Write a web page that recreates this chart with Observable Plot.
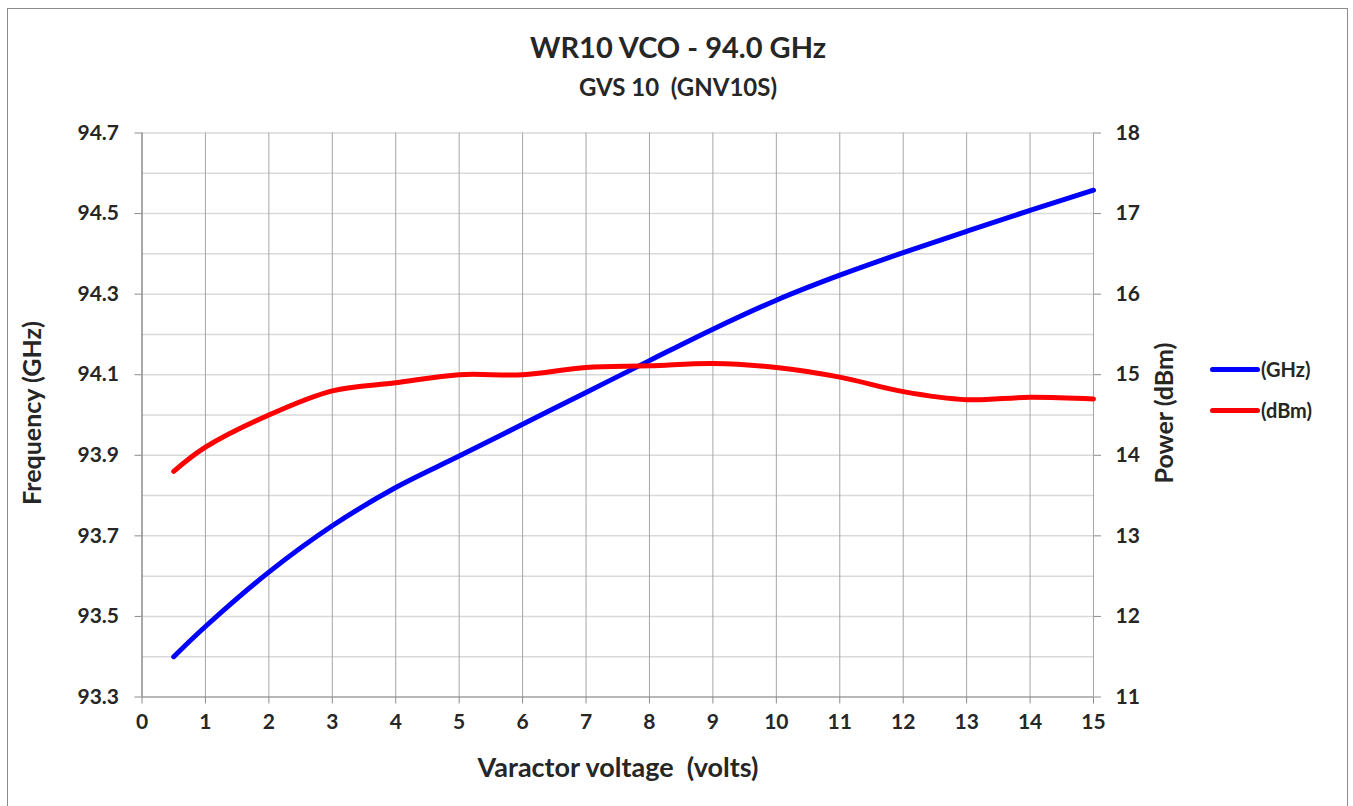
<!DOCTYPE html>
<html><head><meta charset="utf-8">
<script src="https://cdn.jsdelivr.net/npm/d3@7"></script>
<script src="https://cdn.jsdelivr.net/npm/@observablehq/plot@0.6"></script>
<style>
body{margin:0;background:#fff;font-family:Lato,"Open Sans",sans-serif;}
#wrap{position:relative;width:1353px;height:806px;overflow:hidden;}
#frame{position:absolute;left:7px;top:8px;width:1341px;height:800px;border:1px solid #8c8c8c;box-sizing:border-box;}
.txt{position:absolute;font-weight:bold;color:#262626;white-space:pre;line-height:1;}
#chart{position:absolute;left:0;top:0;}
.leg{position:absolute;height:5px;width:50px;border-radius:3px;}
</style></head>
<body>
<div id="wrap">
  <div id="frame"></div>
  <div id="chart"></div>
  <div class="txt" id="title" style="left:0;width:1356px;text-align:center;top:32px;font-size:29px;">WR10 VCO - 94.0 GHz</div>
  <div class="txt" id="subtitle" style="left:0;width:1356px;text-align:center;top:75px;font-size:24px;">GVS 10  (GNV10S)</div>
  <div class="txt" style="left:0;width:1236px;text-align:center;top:753px;font-size:27px;">Varactor voltage  (volts)</div>
  <div class="txt" style="left:31px;top:413px;font-size:25px;transform:translate(-50%,-50%) rotate(-90deg);">Frequency (GHz)</div>
  <div class="txt" style="left:1163px;top:413px;font-size:25px;transform:translate(-50%,-50%) rotate(-90deg);">Power (dBm)</div>
  <div class="leg" style="left:1210px;top:367px;background:#0000ff;"></div>
  <div class="txt" style="left:1261px;top:359px;font-size:20px;">(GHz)</div>
  <div class="leg" style="left:1210px;top:408px;background:#ff0000;"></div>
  <div class="txt" style="left:1261px;top:400px;font-size:20px;">(dBm)</div>
</div>
<script>
// Data
const voltage   = [0.5, 1, 2, 3, 4, 5, 6, 7, 8, 9, 10, 11, 12, 13, 14, 15];
const freqGHz   = [93.40, 93.475, 93.61, 93.725, 93.82, 93.898, 93.977, 94.056, 94.135, 94.213, 94.285, 94.347, 94.403, 94.456, 94.508, 94.558];
const powerDBm  = [13.80, 14.10, 14.50, 14.80, 14.90, 15.00, 15.00, 15.09, 15.11, 15.14, 15.09, 14.97, 14.79, 14.69, 14.72, 14.70];
const xTicks    = [0,1,2,3,4,5,6,7,8,9,10,11,12,13,14,15];
const freqTicks = [93.3, 93.5, 93.7, 93.9, 94.1, 94.3, 94.5, 94.7];
const freqGrid  = [93.3, 93.4, 93.5, 93.6, 93.7, 93.8, 93.9, 94.0, 94.1, 94.2, 94.3, 94.4, 94.5, 94.6, 94.7];
const powerTicks = [11, 12, 13, 14, 15, 16, 17, 18];

// secondary axis mapping: 11 dBm <-> 93.3 GHz, 18 dBm <-> 94.7 GHz
const toGHz = p => 93.3 + (p - 11) * 0.2;
const fromGHz = g => 11 + (g - 93.3) / 0.2;

const freqData = voltage.map((v, i) => ({v, f: freqGHz[i]}));
const powerData = voltage.map((v, i) => ({v, p: powerDBm[i]}));

const chart = Plot.plot({
  width: 1353,
  height: 806,
  marginLeft: 141.5,
  marginRight: 260,
  marginTop: 132.5,
  marginBottom: 109.5,
  style: {fontFamily: "Lato, 'Open Sans', sans-serif", fontSize: "21px", fontWeight: "bold", color: "#262626", background: "transparent", overflow: "visible"},
  x: {domain: [0, 15]},
  y: {domain: [93.3, 94.7]},
  marks: [
    Plot.gridY({ticks: freqGrid, stroke: "#d9d9d9", strokeOpacity: 1, strokeWidth: 1.5}),
    Plot.gridX({ticks: xTicks, stroke: "#a6a6a6", strokeOpacity: 1, strokeWidth: 1}),
    Plot.ruleX([0], {stroke: "#8c8c8c", strokeWidth: 1.2}),
    Plot.ruleY([93.3], {stroke: "#8c8c8c", strokeWidth: 1.2}),
    Plot.axisY({ticks: freqTicks, tickFormat: d3.format(".1f"), tickSize: 7, tickPadding: 16, stroke: "#8c8c8c", fill: "#262626", label: null}),
    Plot.axisY({anchor: "right", ticks: powerTicks.map(toGHz), tickFormat: d => String(Math.round(fromGHz(d))), tickSize: 7, tickPadding: 15, stroke: "#8c8c8c", fill: "#262626", textAnchor: "start", label: null}),
    Plot.axisX({ticks: xTicks, tickFormat: d3.format("d"), tickSize: 7, tickPadding: 10, stroke: "#8c8c8c", fill: "#262626", label: null}),
    Plot.line(freqData, {x: "v", y: "f", stroke: "#0000ff", strokeWidth: 5, curve: "catmull-rom"}),
    Plot.line(powerData, {x: "v", y: d => toGHz(d.p), stroke: "#ff0000", strokeWidth: 5, curve: "catmull-rom"})
  ]
});
document.getElementById("chart").appendChild(chart);
</script>
</body></html>
